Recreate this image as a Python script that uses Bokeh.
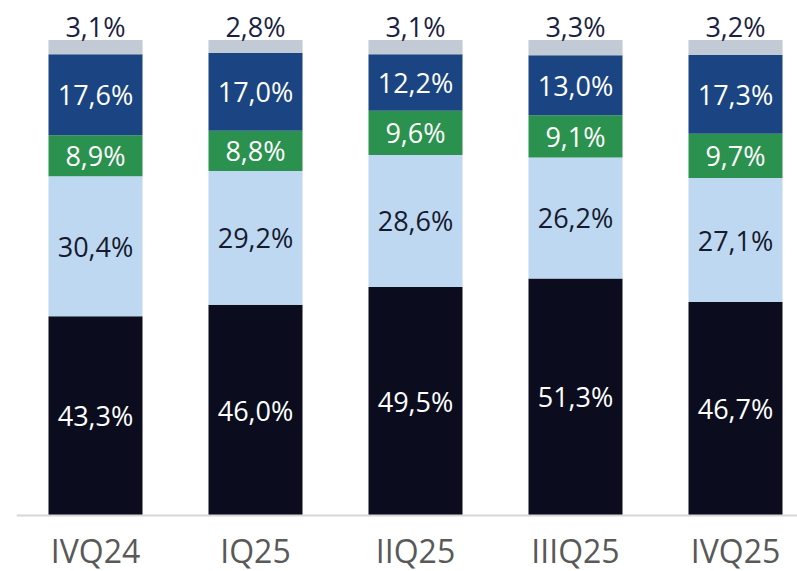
from bokeh.plotting import figure
from bokeh.models import ColumnDataSource, Range1d, Span
from bokeh.embed import file_html
from bokeh.resources import INLINE
from bokeh.core.properties import value

categories = ["IVQ24", "IQ25", "IIQ25", "IIIQ25", "IVQ25"]
s_dark = [43.3, 46.0, 49.5, 51.3, 46.7]
s_light = [30.4, 29.2, 28.6, 26.2, 27.1]
s_green = [8.9, 8.8, 9.6, 9.1, 9.7]
s_blue = [17.6, 17.0, 12.2, 13.0, 17.3]
s_gray = [3.1, 2.8, 3.1, 3.3, 3.2]

series = [s_dark, s_light, s_green, s_blue, s_gray]
colors = ["#0b0d1f", "#bdd8f0", "#2b914e", "#1b4482", "#c2cad6"]
label_colors = ["#ffffff", "#161a2e", "#ffffff", "#ffffff", "#1c1f45"]

FONT = "Open Sans"

p = figure(width=797, height=571, output_backend="svg", toolbar_location=None,
           min_border_left=16, min_border_right=0, min_border_top=0, min_border_bottom=0,
           x_axis_location=None, y_axis_location=None)
p.x_range = Range1d(-0.49375, 4.3875)
p.y_range = Range1d(-11.777, 108.31)
p.grid.visible = False
p.outline_line_color = None

xs = list(range(len(categories)))
totals = [sum(s[i] for s in series) for i in xs]

bottoms = [0.0] * len(xs)
for k, (s, c, lc) in enumerate(zip(series, colors, label_colors)):
    norm = [s[i] / totals[i] * 100 for i in xs]
    tops = [bottoms[i] + norm[i] for i in xs]
    src = ColumnDataSource(dict(x=xs, bottom=bottoms, top=tops,
                                mid=[(bottoms[i] + tops[i]) / 2 for i in xs],
                                lab=[("%.1f%%" % v).replace(".", ",") for v in s]))
    p.vbar(x="x", bottom="bottom", top="top", width=0.5875, source=src,
           fill_color=c, line_color=None)
    if k < len(series) - 1:
        p.text(x="x", y="mid", text="lab", source=src, text_align="center",
               text_baseline="middle", text_color=lc, text_font=value(FONT),
               text_font_size="27px")
    else:
        p.text(x="x", y="top", text="lab", source=src, text_align="center",
               text_baseline="middle", text_color=lc, text_font=value(FONT),
               text_font_size="27px", y_offset=-14)
    bottoms = tops

p.add_layout(Span(location=0, dimension="width", line_color="#d6d6d6", line_width=2))

cat_src = ColumnDataSource(dict(x=xs, y=[0] * len(xs), lab=categories))
p.text(x="x", y="y", text="lab", source=cat_src, text_align="center",
       text_baseline="middle", text_color="#595959", text_font=value(FONT),
       text_font_size="32px", y_offset=35)

open("out.html", "w").write(file_html(p, INLINE))
